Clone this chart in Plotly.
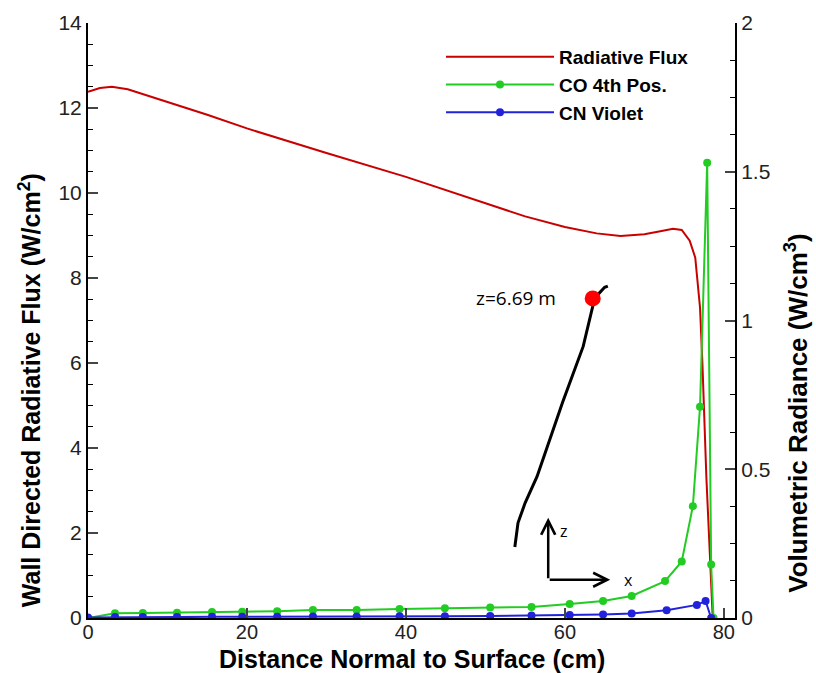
import plotly.graph_objects as go

# ---- data ----
flux_x = [0, 1.5, 3, 5, 10, 15, 20, 30, 40, 50, 55, 60, 64, 67, 70, 72, 73.6, 74.7, 75.7, 76.4, 76.7, 77.0, 77.3, 77.8, 78.6]
flux_y = [12.38, 12.47, 12.5, 12.44, 12.14, 11.84, 11.52, 10.94, 10.38, 9.75, 9.45, 9.2, 9.05, 8.99, 9.03, 9.1, 9.16, 9.13, 8.88, 8.48, 7.9, 7.3, 6.0, 3.3, 0.0]

co_x = [0, 3.4, 6.9, 11.2, 15.6, 19.4, 23.8, 28.3, 33.8, 39.2, 44.9, 50.6, 55.8, 60.6, 64.8, 68.4, 72.6, 74.7, 76.1, 77.0, 77.9, 78.4, 78.7]
co_y = [0.0, 0.016, 0.017, 0.018, 0.02, 0.021, 0.023, 0.027, 0.027, 0.03, 0.033, 0.035, 0.037, 0.047, 0.057, 0.074, 0.124, 0.19, 0.376, 0.71, 1.53, 0.18, 0.0]

cn_x = [0, 3.4, 6.9, 11.2, 15.6, 19.4, 23.8, 28.3, 33.8, 39.2, 44.9, 50.6, 55.8, 60.6, 64.8, 68.4, 72.8, 76.6, 77.7, 78.4]
cn_y = [0.002, 0.003, 0.003, 0.003, 0.004, 0.004, 0.004, 0.005, 0.005, 0.006, 0.006, 0.007, 0.008, 0.01, 0.012, 0.015, 0.026, 0.044, 0.057, 0.0]

# inset sketch of the trajectory (in primary axis units)
traj_x = [53.7, 54.1, 55.0, 56.5, 59.7, 62.3, 63.5, 64.2, 65.0, 65.4]
traj_y = [1.67, 2.24, 2.71, 3.33, 5.07, 6.39, 7.33, 7.62, 7.78, 7.81]
point_x = [63.5]
point_y = [7.52]
point_label = "z=6.69 m"

# small axes sketch: origin, tips of the z and x arrows
sketch_origin = [57.9, 0.90]
sketch_z_tip = [57.9, 2.36]
sketch_x_tip = [65.7, 0.90]

x_ticks = [0, 20, 40, 60, 80]
y_ticks = [0, 2, 4, 6, 8, 10, 12, 14]
y2_ticks = [0, 0.5, 1, 1.5, 2]

x_title = "<b>Distance Normal to Surface (cm)</b>"
y_title = "<b>Wall Directed Radiative Flux (W/cm<sup>2</sup>)</b>"
y2_title = "<b>Volumetric Radiance (W/cm<sup>3</sup>)</b>"

FONT = "Liberation Sans, Arial, sans-serif"
SKETCH_FONT = "Open Sans, sans-serif"

fig = go.Figure()
fig.add_trace(go.Scatter(x=flux_x, y=flux_y, mode="lines", name="Radiative Flux",
                         line=dict(color="#c80000", width=2)))
fig.add_trace(go.Scatter(x=co_x, y=co_y, mode="lines+markers", name="CO 4th Pos.", yaxis="y2",
                         line=dict(color="#22cc22", width=2),
                         marker=dict(color="#22cc22", size=8, symbol="circle")))
fig.add_trace(go.Scatter(x=cn_x, y=cn_y, mode="lines+markers", name="CN Violet", yaxis="y2",
                         line=dict(color="#2222dd", width=2),
                         marker=dict(color="#2222dd", size=8, symbol="circle")))

# inset
fig.add_trace(go.Scatter(x=traj_x, y=traj_y, mode="lines", showlegend=False,
                         line=dict(color="black", width=3), hoverinfo="skip"))
fig.add_trace(go.Scatter(x=point_x, y=point_y, mode="markers", showlegend=False,
                         marker=dict(color="#ff0000", size=16), hoverinfo="skip"))

fig.add_annotation(x=point_x[0], y=point_y[0], text=point_label, showarrow=False,
                   xanchor="right", xshift=-35, font=dict(family=SKETCH_FONT, size=19, color="black"))
for tip in (sketch_z_tip, sketch_x_tip):
    fig.add_annotation(x=tip[0], y=tip[1], ax=sketch_origin[0], ay=sketch_origin[1], axref="x", ayref="y",
                       xref="x", yref="y", showarrow=True, arrowhead=5, arrowsize=1.1, arrowwidth=2.5,
                       arrowcolor="black", text="")
fig.add_annotation(x=sketch_z_tip[0], y=sketch_z_tip[1], text="z", showarrow=False, xanchor="left", yanchor="top",
                   xshift=10, font=dict(family=SKETCH_FONT, size=16, color="black"))
fig.add_annotation(x=sketch_x_tip[0], y=sketch_x_tip[1], text="x", showarrow=False, xanchor="left",
                   xshift=12, font=dict(family=SKETCH_FONT, size=16, color="black"))

# axis titles (placed like the reference: the y titles sit low on their axes)
fig.add_annotation(xref="paper", yref="paper", x=0.5, y=-0.0697, text=x_title, showarrow=False,
                   xanchor="center", yanchor="middle", borderpad=0,
                   font=dict(family=FONT, size=25, color="black"))
fig.add_annotation(xref="paper", yref="paper", x=-0.0896, y=0.383, text=y_title, showarrow=False,
                   textangle=-90, xanchor="center", yanchor="middle",
                   font=dict(family=FONT, size=25, color="black"))
fig.add_annotation(xref="paper", yref="paper", x=1.0958, y=0.345, text=y2_title, showarrow=False,
                   textangle=-90, xanchor="center", yanchor="middle",
                   font=dict(family=FONT, size=26, color="black"))

tickfont = dict(family=FONT, size=21, color="#222")

fig.update_layout(
    width=816, height=673,
    margin=dict(l=88, r=81, t=23, b=55, autoexpand=False),
    plot_bgcolor="white", paper_bgcolor="white",
    font=dict(family=FONT),
    showlegend=True,
    legend=dict(x=0.5456, y=0.975, xanchor="left", yanchor="top",
                bgcolor="rgba(0,0,0,0)", font=dict(family=FONT, size=19, color="black", weight="bold"),
                itemwidth=108, tracegroupgap=0),
    xaxis=dict(range=[0, 81.4], tickvals=x_ticks, ticks="inside", ticklen=10, tickwidth=2,
               ticklabelstandoff=-5,
               showline=True, linecolor="black", linewidth=2, showgrid=False, zeroline=False,
               tickfont=dict(family=FONT, size=20, color="#222"), automargin=False),
    yaxis=dict(range=[0, 14], tickvals=y_ticks, ticks="inside", ticklen=10, tickwidth=2,
               minor=dict(dtick=0.5, ticks="inside", ticklen=5, tickcolor="black", tickwidth=1),
               showline=True, linecolor="black", linewidth=2, showgrid=False, zeroline=False,
               tickfont=tickfont, automargin=False),
    yaxis2=dict(range=[0, 2], tickvals=y2_ticks, overlaying="y", side="right", ticks="inside", ticklen=10, tickwidth=2,
                minor=dict(dtick=0.125, ticks="inside", ticklen=5, tickcolor="black", tickwidth=1),
                showline=True, linecolor="black", linewidth=2, showgrid=False, zeroline=False,
                tickfont=tickfont, automargin=False),
)

fig.write_html("out.html")
